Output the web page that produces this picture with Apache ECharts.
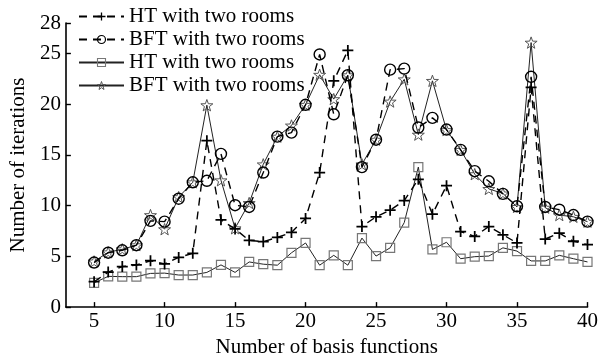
<!DOCTYPE html>
<html>
<head>
<meta charset="utf-8">
<script src="https://cdn.jsdelivr.net/npm/echarts@6/dist/echarts.min.js"></script>
<style>
  html, body { margin: 0; padding: 0; background: #fff; }
  #chart { width: 601px; height: 363px; }
</style>
</head>
<body>
<div id="chart"></div>
<script>
// Number of basis functions (x values)
const basisCounts = [5, 6, 7, 8, 9, 10, 11, 12, 13, 14, 15, 16, 17, 18, 19, 20, 21, 22,
  23, 24, 25, 26, 27, 28, 29, 30, 31, 32, 33, 34, 35, 36, 37, 38, 39, 40];

// Iteration counts per series
const htDashed = [2.5, 3.45, 4.0, 4.15, 4.57, 4.25, 4.9, 5.3, 16.4, 8.6,
  7.7, 6.58, 6.45, 6.87, 7.36, 8.74, 13.26, 22.3, 25.3, 7.94, 8.9, 9.55, 10.5, 12.6,
  9.16, 11.97, 7.45, 6.97, 7.94, 7.13, 6.32, 21.65, 6.71, 7.29, 6.49, 6.16];
const bftDashed = [4.39, 5.36, 5.6, 6.1, 8.5, 8.42, 10.68, 12.3, 12.45, 15.1,
  10.04, 9.87, 13.26, 16.8, 17.2, 19.94, 24.9, 19.0, 22.85, 13.8, 16.5, 23.4, 23.5, 17.7,
  18.65, 17.5, 15.5, 13.4, 12.4, 11.16, 9.94, 22.7, 9.87, 9.6, 9.07, 8.42];
const htSolid = [2.39, 3.03, 3.0, 3.0, 3.32, 3.35, 3.16, 3.16, 3.42, 4.16,
  3.42, 4.45, 4.23, 4.13, 5.35, 6.32, 4.13, 5.1, 4.13, 6.8, 5.03, 5.84, 8.33, 13.8,
  5.68, 6.39, 4.77, 4.97, 5.03, 5.84, 5.52, 4.55, 4.55, 5.1, 4.77, 4.45];
const bftSolid = [4.5, 5.4, 5.7, 6.1, 9.07, 7.68, 10.84, 12.3, 19.9, 12.5,
  7.77, 10.26, 14.07, 16.8, 17.9, 19.94, 22.9, 20.5, 22.85, 14.07, 16.5, 20.26, 22.45, 17.0,
  22.3, 17.45, 15.5, 13.1, 11.65, 11.2, 9.87, 26.07, 9.8, 9.07, 8.9, 8.42];

// Tick labels
const xTicks = [5, 10, 15, 20, 25, 30, 35, 40];
const yTicks = [0, 5, 10, 15, 20, 25, 28];

// Legend labels keyed by series id
const legendLabels = {
  htDashed: 'HT with two rooms',
  bftDashed: 'BFT with two rooms',
  htSolid: 'HT with two rooms',
  bftSolid: 'BFT with two rooms'
};

const FONT = 'Liberation Serif, Times New Roman, serif';
const plusSymbol = 'path://M4.2,0H5.8V4.2H10V5.8H5.8V10H4.2V5.8H0V4.2H4.2Z';
const starSymbol = 'path://M50,0L61.76,33.82L97.55,34.55L69.02,56.18L79.39,90.45L50,70L20.61,90.45L30.98,56.18L2.45,34.55L38.24,33.82Z';
const hollow = 'rgba(255,255,255,0)';

const pairs = vals => basisCounts.map((x, i) => [x, vals[i]]);

const chart = echarts.init(document.getElementById('chart'), null, { renderer: 'canvas' });

chart.setOption({
  animation: false,
  backgroundColor: '#fff',
  textStyle: { fontFamily: FONT, color: '#000' },
  grid: { left: 57.7, right: 6.5, top: 23, bottom: 51, containLabel: false },
  legend: {
    orient: 'vertical',
    left: 73,
    top: 1,
    itemWidth: 45,
    itemHeight: 10,
    itemGap: 2,
    textStyle: { fontFamily: FONT, fontSize: 21, color: '#000', lineHeight: 21 },
    formatter: name => legendLabels[name],
    data: [
      { name: 'htDashed' },
      { name: 'bftDashed', itemStyle: { color: hollow, borderColor: '#000', borderWidth: 1.2 } },
      { name: 'htSolid', itemStyle: { color: hollow, borderColor: '#777', borderWidth: 1.1 } },
      { name: 'bftSolid', itemStyle: { color: hollow, borderColor: '#555', borderWidth: 1 } }
    ]
  },
  xAxis: {
    type: 'value',
    min: 3,
    max: 40,
    name: 'Number of basis functions',
    nameLocation: 'middle',
    nameGap: 22,
    nameTextStyle: { fontFamily: FONT, fontSize: 21, color: '#000' },
    axisLine: { show: true, lineStyle: { color: '#000', width: 1.6 } },
    axisTick: { show: true, inside: true, length: 5, customValues: xTicks, lineStyle: { color: '#000', width: 1.4 } },
    axisLabel: { customValues: xTicks, margin: 4, fontFamily: FONT, fontSize: 21, color: '#000' },
    splitLine: { show: false }
  },
  yAxis: {
    type: 'value',
    min: 0,
    max: 28,
    name: 'Number of iterations',
    nameLocation: 'middle',
    nameGap: 29,
    nameTextStyle: { fontFamily: FONT, fontSize: 21, color: '#000' },
    axisLine: { show: true, lineStyle: { color: '#000', width: 1.6 } },
    axisTick: { show: true, inside: true, length: 5, customValues: yTicks, lineStyle: { color: '#000', width: 1.4 } },
    axisLabel: { customValues: yTicks, margin: 5, fontFamily: FONT, fontSize: 21, color: '#000' },
    splitLine: { show: false }
  },
  series: [
    {
      id: 'htDashed', name: 'htDashed', type: 'line',
      data: pairs(htDashed),
      symbol: plusSymbol, symbolSize: 11,
      itemStyle: { color: '#000' },
      lineStyle: { color: '#000', width: 1.4, type: [8, 6] },
      z: 3
    },
    {
      id: 'bftDashed', name: 'bftDashed', type: 'line',
      data: pairs(bftDashed),
      symbol: 'circle', symbolSize: 11,
      itemStyle: { color: hollow, borderColor: '#000', borderWidth: 1.4 },
      lineStyle: { color: '#000', width: 1.4, type: [8, 6] },
      z: 3
    },
    {
      id: 'htSolid', name: 'htSolid', type: 'line',
      data: pairs(htSolid),
      symbol: 'rect', symbolSize: 9,
      itemStyle: { color: hollow, borderColor: '#777', borderWidth: 1.2 },
      lineStyle: { color: '#222', width: 1 },
      z: 2
    },
    {
      id: 'bftSolid', name: 'bftSolid', type: 'line',
      data: pairs(bftSolid),
      symbol: starSymbol, symbolSize: 12, symbolKeepAspect: true,
      itemStyle: { color: hollow, borderColor: '#555', borderWidth: 1 },
      lineStyle: { color: '#222', width: 1 },
      z: 2
    }
  ]
});
</script>
</body>
</html>
